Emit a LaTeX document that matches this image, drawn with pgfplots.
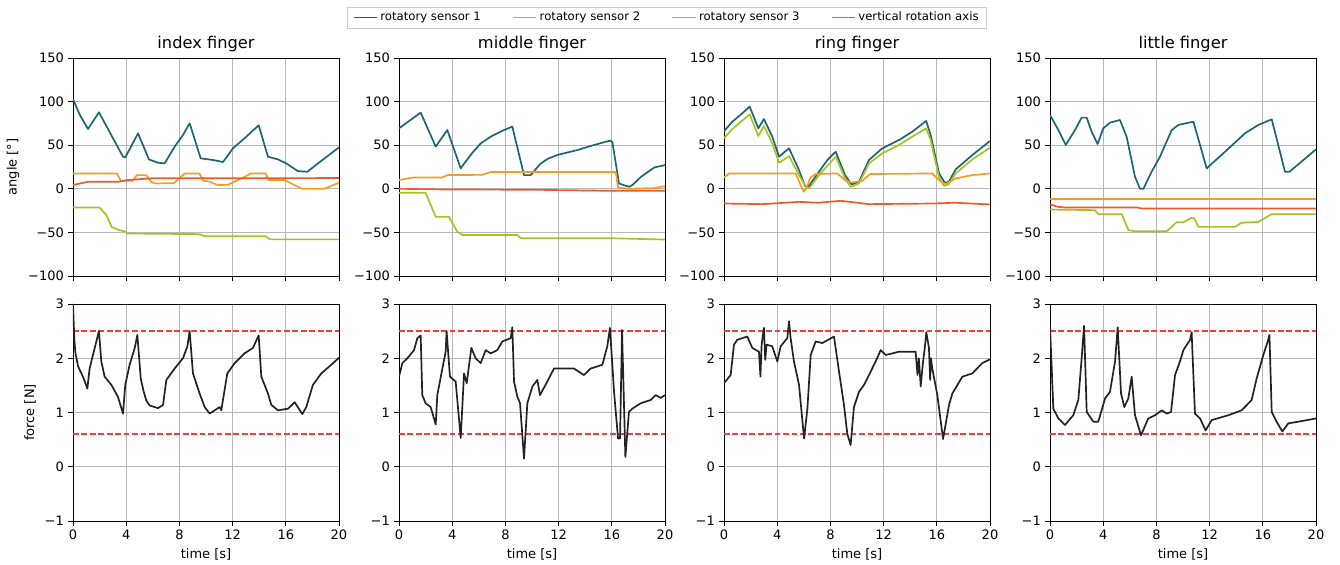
\documentclass[border=0pt]{standalone}
\usepackage{fontspec}
\setmainfont{DejaVu Sans}
\usepackage{pgfplots}
\pgfplotsset{compat=1.18}
\definecolor{cA}{HTML}{1B6575}
\definecolor{cB}{HTML}{A8C21E}
\definecolor{cC}{HTML}{F59C22}
\definecolor{cD}{HTML}{F05A28}
\definecolor{cF}{HTML}{222222}
\definecolor{cR}{HTML}{F53C3C}
\pgfplotsset{
  base/.style={width=204.82pt, scale only axis, xmin=0, xmax=20,
    xtick={0,4,8,12,16,20},
    grid=major, grid style={color=black!28, line width=0.6pt},
    axis line style={line width=0.6pt},
    tick align=outside, tick style={black, line width=0.6pt}, major tick length=3.5pt,
    xtick pos=bottom, ytick pos=left,
    tick label style={font=\fontsize{10}{12}\selectfont},
    label style={font=\fontsize{10}{12}\selectfont},
    title style={font=\fontsize{12.5}{14}\selectfont, yshift=-5pt},
    every axis plot/.append style={line width=1.3pt, line join=round}},
  top/.style={base, height=167.86pt, ymin=-100, ymax=150, ytick={-100,-50,0,50,100,150},
    yticklabels={−100,−50,0,50,100,150}, xticklabels={}},
  bot/.style={base, height=167.09pt, ymin=-1, ymax=3, ytick={-1,0,1,2,3},
    yticklabels={−1,0,1,2,3}, xticklabels={0,4,8,12,16,20}, xlabel={time [s]}},
  thr/.style={cR, line width=1.1pt, dash pattern=on 4.5pt off 2pt},
  mylegend/.style={
    legend style={at={(2.233,1.186)}, anchor=center, legend columns=4, draw=black!20,
      inner ysep=2pt, inner xsep=4pt,
      font=\fontsize{9}{11}\selectfont, /tikz/every even column/.append style={column sep=22pt}},
    legend image code/.code={\draw[##1] (0pt,0pt) -- (18pt,0pt);},
    legend image post style={line width=1.3pt}},
}
\begin{document}
\begin{tikzpicture}
\path[use as bounding box] (0,0) rectangle (1031.8pt,435.05pt);
% ---------------- index finger (top)
\begin{axis}[top, at={(56.21pt,222.53pt)}, anchor=south west, title={index finger}, ylabel={angle [°]}, mylegend]
\addplot[draw=cA] coordinates {(0,103) (0.5,85) (1.13,68.6) (1.95,87.7) (3.76,36.8) (3.93,36) (4.89,63.6) (5.71,33.7) (6.39,29.9) (6.89,29.1) (7.64,48.3) (8.27,61.7) (8.77,75.1) (9.6,34.9) (10.53,33) (11.28,30.7) (12.03,46.4) (12.9,57.9) (13.96,72.8) (14.66,36.8) (15.41,33.7) (16.04,29.1) (16.9,20.3) (17.62,19.5) (18.42,29.1) (20,47.5)};
\addlegendentry{rotatory sensor 1}
\addplot[draw=cB] coordinates {(0,-21.5) (2.0,-21.5) (2.5,-30) (2.9,-43.7) (3.5,-47.5) (3.9,-49) (4.1,-51.3) (9.5,-52) (9.9,-54.4) (14.5,-54.4) (14.8,-58) (20,-58)};
\addlegendentry{rotatory sensor 2}
\addplot[draw=cC] coordinates {(0,17.6) (3.3,17.6) (3.6,9.2) (4.5,9.2) (4.8,15.7) (5.5,15.7) (5.9,7.5) (6.2,6.1) (7.6,6.5) (8.4,17.6) (9.5,17.6) (9.8,9.2) (10.2,8.5) (10.9,4.2) (11.65,4.6) (12.66,11.9) (13.4,17.6) (14.5,17.6) (14.7,10) (15.9,10) (17.2,0) (18.9,0) (20,7)};
\addlegendentry{rotatory sensor 3}
\addplot[draw=cD] coordinates {(0,4.2) (0.5,6) (1.1,8) (3.4,8) (4.1,10) (5.9,12) (20,12.3)};
\addlegendentry{vertical rotation axis}
\end{axis}
% ---------------- middle finger (top)
\begin{axis}[top, at={(307.23pt,222.53pt)}, anchor=south west, title={middle finger}]
\addplot[cA] coordinates {(0,69.3) (1.63,87.4) (2.76,48.3) (3.63,67.4) (4.64,23.4) (5.0,31) (5.5,41) (6.14,52) (6.9,59.8) (7.9,67.4) (8.52,71.3) (9.4,15.7) (9.9,15.7) (10.65,29) (11.2,34.5) (11.9,38.7) (13.4,44.4) (14.66,50.2) (15.86,55.2) (16.04,54) (16.54,6.1) (16.9,4.2) (17.3,2.3) (17.54,4.2) (18.2,13.8) (19.2,24.5) (20,27.2)};
\addplot[cB] coordinates {(0,-4.6) (2.0,-4.6) (2.76,-32.2) (3.76,-32.2) (4.39,-49.4) (4.76,-52.9) (8.9,-52.9) (9.15,-56.7) (15.9,-56.7) (20,-58.2)};
\addplot[cC] coordinates {(0,10) (1.1,13) (3.26,13) (3.63,15.7) (6.27,16) (6.89,19.2) (16.3,19.2) (16.47,1.5) (17.2,0) (19.2,0.8) (20,3)};
\addplot[cD] coordinates {(0,0) (3.4,-0.8) (10,-1.1) (15.9,-2.3) (20,-2.3)};
\end{axis}
% ---------------- ring finger (top)
\begin{axis}[top, at={(557.48pt,222.53pt)}, anchor=south west, title={ring finger}]
\addplot[cA] coordinates {(0,66) (0.63,77) (1.38,86.6) (1.93,94.3) (2.58,69.3) (3.0,80) (3.63,59.8) (4.14,36.8) (4.89,46.4) (5.64,21.5) (6.09,3.1) (6.34,2.3) (7.14,19.5) (7.77,33) (8.4,42.5) (9.1,15.7) (9.6,5) (10.15,8) (10.9,33) (11.9,46.4) (13.16,55.9) (14.16,65.5) (15.2,77.8) (15.54,61.7) (16.17,17.6) (16.6,6.9) (16.9,8) (17.42,22.2) (18.67,38.7) (20,54.8)};
\addplot[cB] coordinates {(0,58) (0.63,68.6) (1.93,85.4) (2.58,60.5) (3.0,72) (3.63,52.1) (4.14,29.9) (4.89,37.5) (5.64,15.7) (6.19,1.5) (6.39,0.4) (7.14,15.7) (8.4,36.8) (9.1,11.9) (9.52,2.3) (10.15,6.1) (10.9,29.1) (11.9,40.6) (13.16,50.2) (14.16,59.8) (15.2,69.3) (15.54,55.9) (16.17,13) (16.54,3.4) (16.9,5.4) (17.42,17.6) (18.67,33.7) (20,47.1)};
\addplot[cC] coordinates {(0,13) (0.38,17.6) (5.39,17.6) (5.76,4.2) (6.0,-3.4) (6.2,0.4) (6.5,13) (6.9,16.9) (8.52,17.6) (9.15,9.2) (9.65,7.3) (10.4,9.2) (11.0,16.9) (15.66,17.6) (16.3,8) (16.67,5.4) (17.42,11.9) (18.67,15.7) (20,17.6)};
\addplot[cD] coordinates {(0,-16.9) (2.9,-17.6) (5.64,-15) (7.1,-16) (8.77,-13.8) (10.9,-17.6) (15.66,-16.9) (17.4,-16) (20,-18)};
\end{axis}
% ---------------- little finger (top)
\begin{axis}[top, at={(808.5pt,222.53pt)}, anchor=south west, title={little finger}]
\addplot[cA] coordinates {(0,84.7) (0.63,67.4) (1.18,50.2) (1.88,67.4) (2.38,81.6) (2.76,81.6) (3.13,65.5) (3.58,51.3) (4.0,69.3) (4.51,75.9) (5.26,78.9) (5.76,59.8) (6.39,13.8) (6.77,0) (7.02,0) (7.64,19.5) (8.27,36.8) (9.15,67.4) (9.65,73.2) (10.78,77) (11.78,23.4) (13.16,42.5) (14.66,63.6) (15.66,73.2) (16.67,79.7) (17.67,19.5) (18.0,19.5) (20,45.2)};
\addplot[cB] coordinates {(0,-23.8) (3.38,-24.5) (3.63,-29.1) (5.4,-29.1) (5.9,-47.5) (6.4,-48.7) (8.77,-48.7) (9.15,-43.7) (9.52,-38.3) (10.03,-38.3) (10.65,-33.3) (10.85,-34) (11.15,-43.7) (13.9,-43.7) (14.4,-39) (15.66,-38) (16.67,-29.1) (20,-29.1)};
\addplot[cC] coordinates {(0,-11.5) (20,-11.5)};
\addplot[cD] coordinates {(0,-18) (0.63,-20.7) (1.13,-21.5) (6.6,-21.5) (6.9,-22.6) (20,-22.6)};
\end{axis}
% ---------------- force panels
\begin{axis}[bot, at={(56.21pt,33.88pt)}, anchor=south west, ylabel={force [N]}]
\addplot[thr] coordinates {(0,2.5) (20,2.5)};
\addplot[thr] coordinates {(0,0.6) (20,0.6)};
\addplot[cF] coordinates {(0,3.0) (0.1,2.35) (0.18,2.1) (0.38,1.85) (0.75,1.66) (1.08,1.44) (1.25,1.81) (1.5,2.06) (1.95,2.5) (2.13,1.94) (2.38,1.66) (2.88,1.51) (3.38,1.29) (3.76,0.98) (3.93,1.51) (4.26,1.88) (4.64,2.19) (4.84,2.43) (5.09,1.63) (5.3,1.4) (5.51,1.22) (5.76,1.13) (6.39,1.08) (6.77,1.14) (7.02,1.6) (7.64,1.81) (8.27,2.0) (8.6,2.22) (8.77,2.5) (9.02,1.72) (9.52,1.35) (9.9,1.1) (10.28,0.98) (10.65,1.04) (11.03,1.1) (11.15,1.04) (11.6,1.72) (12.16,1.91) (12.9,2.09) (13.53,2.19) (13.96,2.42) (14.16,1.66) (14.66,1.35) (14.91,1.14) (15.41,1.04) (16.17,1.07) (16.67,1.19) (16.9,1.1) (17.24,0.97) (17.54,1.1) (18.04,1.51) (18.67,1.72) (19.42,1.88) (20,2.01)};
\end{axis}
\begin{axis}[bot, at={(307.23pt,33.88pt)}, anchor=south west]
\addplot[thr] coordinates {(0,2.5) (20,2.5)};
\addplot[thr] coordinates {(0,0.6) (20,0.6)};
\addplot[cF] coordinates {(0,1.66) (0.25,1.91) (0.63,2.0) (1.13,2.15) (1.38,2.37) (1.63,2.42) (1.75,1.32) (2.0,1.17) (2.38,1.1) (2.76,0.78) (2.88,1.32) (3.26,1.81) (3.51,2.12) (3.58,2.5) (3.83,1.66) (4.26,1.57) (4.64,0.53) (4.89,1.72) (5.09,1.54) (5.44,2.19) (5.76,2.0) (6.14,1.91) (6.52,2.15) (6.89,2.09) (7.39,2.15) (7.77,2.31) (8.4,2.37) (8.52,2.57) (8.65,1.57) (8.9,1.29) (9.1,1.17) (9.4,0.15) (9.65,1.17) (10.03,1.48) (10.4,1.6) (10.6,1.32) (11.15,1.57) (11.65,1.81) (13.16,1.81) (13.9,1.69) (14.41,1.81) (15.29,1.88) (15.66,2.22) (15.86,2.56) (16.17,1.38) (16.47,0.52) (16.62,0.52) (16.77,2.52) (17.02,0.18) (17.29,1.01) (17.54,1.07) (18.17,1.17) (18.92,1.23) (19.3,1.32) (19.67,1.27) (20,1.32)};
\end{axis}
\begin{axis}[bot, at={(557.48pt,33.88pt)}, anchor=south west]
\addplot[thr] coordinates {(0,2.5) (20,2.5)};
\addplot[thr] coordinates {(0,0.6) (20,0.6)};
\addplot[cF] coordinates {(0,1.54) (0.5,1.69) (0.75,2.25) (1.0,2.34) (1.75,2.4) (2.13,2.19) (2.63,2.12) (2.74,1.66) (2.83,2.25) (3.0,2.56) (3.1,1.97) (3.2,2.25) (3.63,2.22) (4.01,1.94) (4.26,2.22) (4.76,2.37) (4.89,2.68) (5.01,2.37) (5.26,1.94) (5.64,1.51) (6.02,0.52) (6.27,1.07) (6.52,2.06) (6.89,2.31) (7.39,2.28) (8.27,2.4) (8.65,1.75) (9.02,1.14) (9.27,0.61) (9.52,0.4) (9.77,1.1) (10.15,1.38) (10.53,1.51) (10.9,1.69) (11.4,1.94) (11.78,2.15) (12.16,2.06) (13.16,2.12) (14.41,2.12) (14.55,1.69) (14.65,2.0) (14.79,1.48) (14.95,1.9) (15.11,2.22) (15.21,2.48) (15.41,2.19) (15.5,1.6) (15.56,2.0) (15.66,1.81) (16.04,1.32) (16.47,0.51) (16.92,1.14) (17.17,1.35) (17.92,1.66) (18.67,1.72) (19.42,1.91) (20,1.98)};
\end{axis}
\begin{axis}[bot, at={(808.5pt,33.88pt)}, anchor=south west]
\addplot[thr] coordinates {(0,2.5) (20,2.5)};
\addplot[thr] coordinates {(0,0.6) (20,0.6)};
\addplot[cF] coordinates {(0,2.6) (0.25,1.07) (0.63,0.89) (1.13,0.77) (1.75,0.95) (2.13,1.23) (2.38,2.0) (2.56,2.6) (2.76,1.01) (3.26,0.83) (3.63,0.83) (4.14,1.26) (4.51,1.38) (4.89,1.94) (5.09,2.57) (5.34,1.35) (5.59,1.1) (5.89,1.26) (6.14,1.66) (6.39,0.95) (6.84,0.58) (7.39,0.89) (7.9,0.95) (8.4,1.04) (8.77,0.98) (9.1,1.01) (9.4,1.69) (9.77,1.94) (10.03,2.15) (10.53,2.34) (10.65,2.48) (10.9,0.98) (11.28,0.89) (11.7,0.67) (12.16,0.86) (13.41,0.95) (14.41,1.04) (15.16,1.23) (15.54,1.63) (16.04,2.06) (16.37,2.31) (16.5,2.43) (16.67,1.01) (17.04,0.83) (17.47,0.65) (17.92,0.8) (18.67,0.83) (20,0.89)};
\end{axis}
\end{tikzpicture}
\end{document}
